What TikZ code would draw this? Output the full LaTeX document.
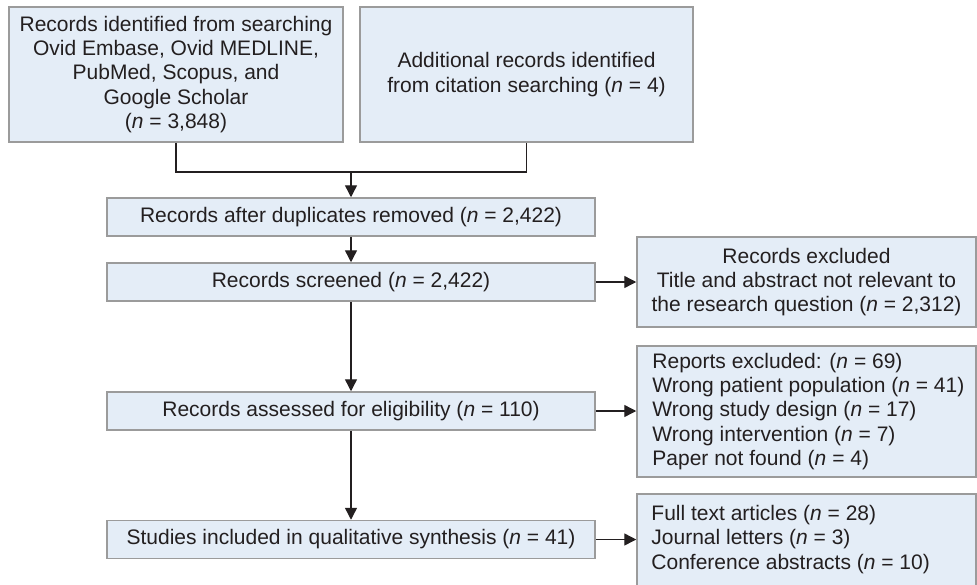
\documentclass[tikz,border=0pt]{standalone}
\usepackage{fontspec}
\setmainfont{Liberation Sans}
\usetikzlibrary{arrows.meta}
\definecolor{boxfill}{HTML}{E4EDF7}
\definecolor{boxline}{HTML}{9B9B9B}
\definecolor{ink}{HTML}{231F20}
\newcommand\Nv{\textit{n}}
\begin{document}
\begin{tikzpicture}[x=1pt,y=-1pt,
  font=\fontsize{21}{24.3}\selectfont,
  box/.style={draw=boxline, fill=boxfill, line width=1.5pt, text=ink, align=center, inner sep=0pt},
  txt/.style={text=ink, align=left, inner sep=0pt, anchor=west},
  conn/.style={draw=ink, line width=1.4pt},
  arr/.style={conn, -{Triangle[length=12pt,width=12pt]}}]
\useasboundingbox (0,0) rectangle (977,584);
\node[box, minimum width=334, minimum height=135] (b1) at (176,74.5)
  {Records identified from searching\\Ovid Embase, Ovid MEDLINE,\\PubMed, Scopus, and\\Google Scholar\\(\Nv{} = 3,848)};
\node[box, minimum width=333, minimum height=135] (b2) at (526.5,74.5)
  {Additional records identified\\from citation searching (\Nv{} = 4)};
\node[box, minimum width=488, minimum height=38] (b3) at (351,217)
  {Records after duplicates removed (\Nv{} = 2,422)};
\node[box, minimum width=488, minimum height=38] (b4) at (351,282)
  {Records screened (\Nv{} = 2,422)};
\node[box, minimum width=339, minimum height=90] (e1) at (806.5,282)
  {Records excluded\\Title and abstract not relevant to\\the research question (\Nv{} = 2,312)};
\node[box, minimum width=488, minimum height=38] (b5) at (351,411)
  {Records assessed for eligibility (\Nv{} = 110)};
\node[box, minimum width=339, minimum height=131] (e2) at (806.5,411.5) {};
\node[txt] (e2t) at ([xshift=16pt]e2.west)
  {Reports excluded: (\Nv{} = 69)\\Wrong patient population (\Nv{} = 41)\\Wrong study design (\Nv{} = 17)\\Wrong intervention (\Nv{} = 7)\\Paper not found (\Nv{} = 4)};
\node[box, minimum width=488, minimum height=38] (b6) at (351,539.5)
  {Studies included in qualitative synthesis (\Nv{} = 41)};
\node[box, minimum width=339, minimum height=94] (e3) at (806.5,541) {};
\node[txt] (e3t) at (e3.west |- b6.east) [xshift=15pt]
  {Full text articles (\Nv{} = 28)\\Journal letters (\Nv{} = 3)\\Conference abstracts (\Nv{} = 10)};
\coordinate (jm) at (351,172);
\draw[conn] (b1.south) -- (b1.south |- jm) -- (b2.south |- jm) -- (b2.south);
\draw[arr] (jm) -- (b3.north);
\draw[arr] (b3.south) -- (b4.north);
\draw[arr] (b4.south) -- (b5.north);
\draw[arr] (b5.south) -- (b6.north);
\draw[arr] (b4.east) -- (e1.west);
\draw[arr] (b5.east) -- (b5.east -| e2.west);
\draw[arr] (b6.east) -- (b6.east -| e3.west);
\end{tikzpicture}
\end{document}
